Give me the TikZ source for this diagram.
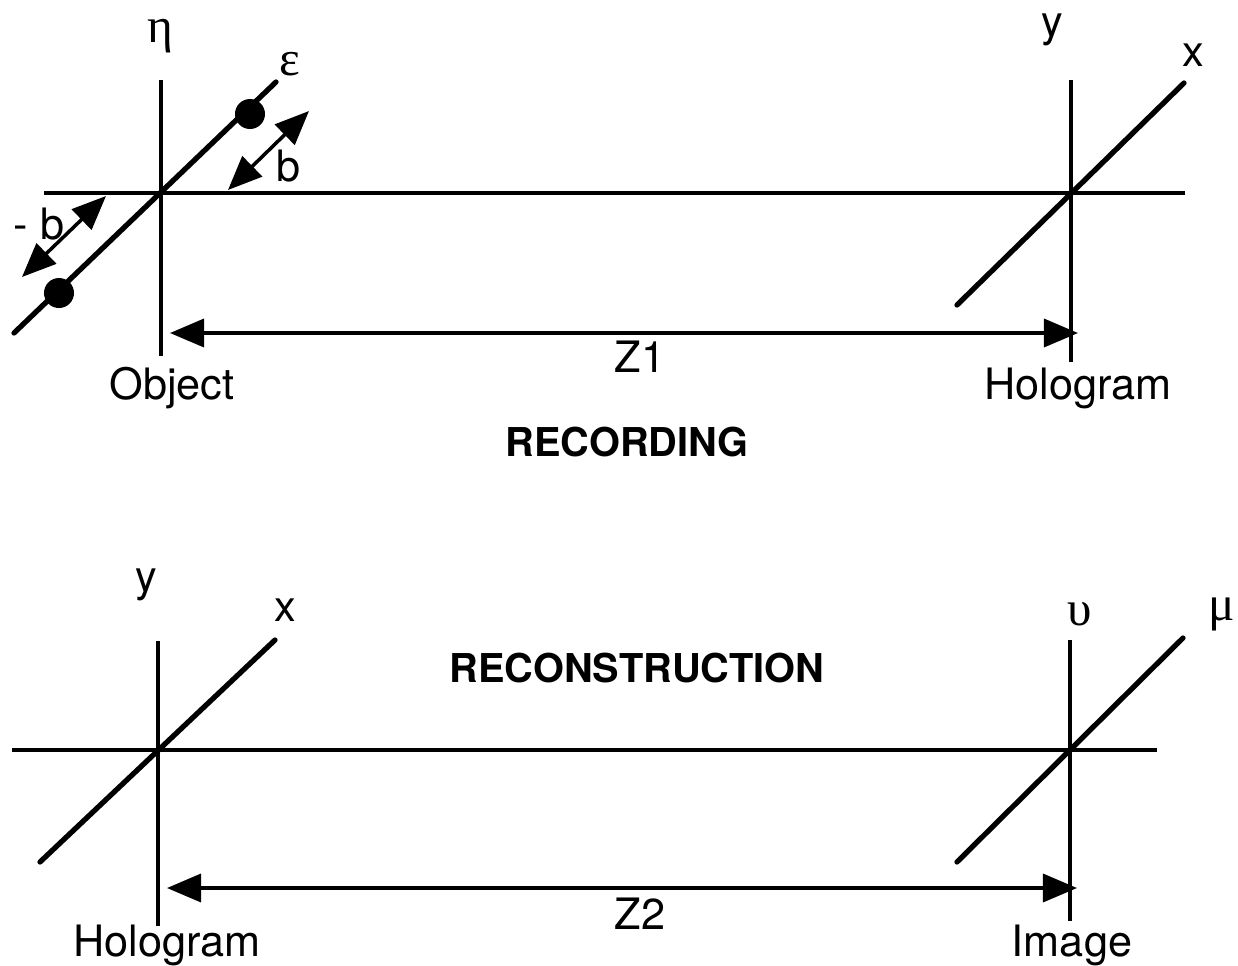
\documentclass[tikz,border=0pt]{standalone}
\usepackage{fontspec}
\setmainfont{TeX Gyre Heros}
\newfontfamily\greekfont{Liberation Serif}
\usetikzlibrary{arrows.meta,positioning}

\begin{document}
\begin{tikzpicture}[x=0.01cm, y=-0.01cm,
    axis/.style={line width=0.9pt},
    tilt/.style={line width=1.5pt, line cap=round},
    dimline/.style={{Triangle[length=3.4mm,width=2.8mm]}-{Triangle[length=3.4mm,width=2.8mm]}, line width=1pt},
    txt/.style={font=\fontsize{12.3}{14}\selectfont, inner sep=1pt},
    greek/.style={font=\fontsize{14}{16}\greekfont, inner sep=1pt},
    heading/.style={font=\fontsize{11.3}{14}\selectfont\bfseries, inner sep=1pt},
    dot/.style={circle, fill, inner sep=0pt, minimum size=3mm}
  ]
  \useasboundingbox (0,0) rectangle (1238,966);

  % recording
  \coordinate (obj) at (161,193);
  \coordinate (holo) at (1071,193);
  \coordinate (objTop) at (161,80);
  \coordinate (objBot) at (161,356);
  \coordinate (holoTop) at (1071,80);
  \coordinate (holoBot) at (1071,362);
  \coordinate (axL) at (44,193);
  \coordinate (axR) at (1185,193);
  \coordinate (epsLo) at (14,333);
  \coordinate (epsHi) at (276,82);
  \coordinate (xLo) at (957,305);
  \coordinate (xHi) at (1184,83);
  \node[dot] (srcA) at (250,114) {};
  \node[dot] (srcB) at (59,293) {};
  \coordinate (bFoot) at (228,190);
  \coordinate (bTip) at (309,111);
  \coordinate (mbFoot) at (106,196);
  \coordinate (mbTip) at (22,277);
  \coordinate (zOneL) at (170,333);
  \coordinate (zOneR) at (1078,333);

  \draw[axis] (axL) -- (axR);
  \draw[axis] (objTop) -- (objBot);
  \draw[axis] (holoTop) -- (holoBot);
  \draw[tilt] (epsLo) -- (epsHi);
  \draw[tilt] (xLo) -- (xHi);
  \draw[dimline] (bFoot) -- (bTip);
  \draw[dimline] (mbFoot) -- (mbTip);
  \draw[dimline] (zOneL) -- (zOneR);

  \node[txt] (bLabel) at (289,166) {b};
  \node[txt] (mbLabel) at (39,224) {- b};
  \node[greek] (eta) at (160,36) {η};
  \node[greek] (eps) at (290,64) {ε};
  \node[txt] (yRec) at (1052,30) {y};
  \node[txt] (xRec) at (1193,55) {x};
  \node[txt] (zOne) at (640,357) {Z1};
  \node[txt] (object) at (172,388) {Object};
  \node[txt] (holoRec) at (1078,388) {Hologram};
  \node[heading] (recording) at (627,442) {RECORDING};

  % reconstruction
  \coordinate (hol) at (158,750);
  \coordinate (img) at (1070,750);
  \coordinate (holTop) at (158,641);
  \coordinate (holBot) at (158,926);
  \coordinate (imgTop) at (1070,640);
  \coordinate (imgBot) at (1070,921);
  \coordinate (bxL) at (12,750);
  \coordinate (bxR) at (1157,750);
  \coordinate (hxLo) at (40,862);
  \coordinate (hxHi) at (275,640);
  \coordinate (muLo) at (957,862);
  \coordinate (muHi) at (1183,638);
  \coordinate (zTwoL) at (167,888);
  \coordinate (zTwoR) at (1077,888);

  \draw[axis] (bxL) -- (bxR);
  \draw[axis] (holTop) -- (holBot);
  \draw[axis] (imgTop) -- (imgBot);
  \draw[tilt] (hxLo) -- (hxHi);
  \draw[tilt] (muLo) -- (muHi);
  \draw[dimline] (zTwoL) -- (zTwoR);

  \node[txt] (yRecon) at (146,585) {y};
  \node[txt] (xRecon) at (285,610) {x};
  \node[greek] (upsilon) at (1080,614) {υ};
  \node[greek] (mu) at (1222,614) {μ};
  \node[heading] (reconstruction) at (637,668) {RECONSTRUCTION};
  \node[txt] (zTwo) at (640,914) {Z2};
  \node[txt] (holoRecon) at (167,945) {Hologram};
  \node[txt] (image) at (1072,945) {Image};
\end{tikzpicture}
\end{document}
